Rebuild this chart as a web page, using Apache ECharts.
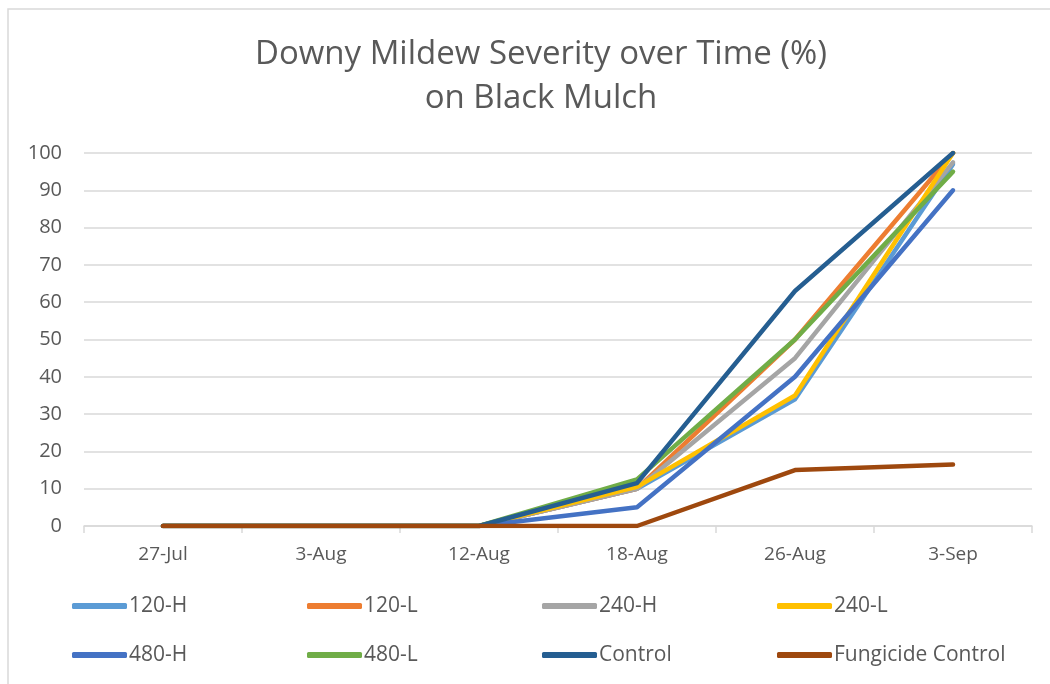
<!DOCTYPE html>
<html>
<head>
<meta charset="utf-8">
<script src="https://cdn.jsdelivr.net/npm/echarts@6/dist/echarts.min.js"></script>
<style>html,body{margin:0;padding:0;background:#fff;}#c{width:1050px;height:684px;}</style>
</head>
<body>
<div id="c"></div>
<script>
const categories = ['27-Jul', '3-Aug', '12-Aug', '18-Aug', '26-Aug', '3-Sep'];
const s120H = [0, 0, 0, 10, 34, 97];
const s120L = [0, 0, 0, 10, 50, 100];
const s240H = [0, 0, 0, 10, 45, 97.5];
const s240L = [0, 0, 0, 10.5, 35, 100];
const s480H = [0, 0, 0, 5, 40, 90];
const s480L = [0, 0, 0, 12.5, 50, 95];
const sControl = [0, 0, 0, 11.5, 63, 100];
const sFungicide = [0, 0, 0, 0, 15, 16.5];
const yTicks = [0, 10, 20, 30, 40, 50, 60, 70, 80, 90, 100];

const seriesDefs = [
  ['120-H', s120H, '#5B9BD5'],
  ['120-L', s120L, '#ED7D31'],
  ['240-H', s240H, '#A5A5A5'],
  ['240-L', s240L, '#FFC000'],
  ['480-H', s480H, '#4472C4'],
  ['480-L', s480L, '#70AD47'],
  ['Control', sControl, '#255E91'],
  ['Fungicide Control', sFungicide, '#9E480E']
];
const FONT = 'Open Sans';
const txt = '#595959';
const legendPos = [[67,589],[302,589],[537,589],[772,589],[67,638],[302,638],[537,638],[772,638]];

const chart = echarts.init(document.getElementById('c'));
chart.setOption({
  animation: false,
  backgroundColor: '#fff',
  textStyle: { fontFamily: FONT },
  graphic: [{
    type: 'rect', shape: { x: 8, y: 9, width: 1100, height: 720 },
    style: { fill: 'none', stroke: '#d9d9d9', lineWidth: 1.5 }, silent: true, z: -10
  }],
  title: {
    text: 'Downy Mildew Severity over Time (%)\non Black Mulch',
    left: 536, top: 28, textAlign: 'center',
    textStyle: { fontFamily: FONT, fontSize: 33, fontWeight: 'normal', color: txt, lineHeight: 44 }
  },
  legend: seriesDefs.map((d, i) => ({
    data: [d[0]], left: legendPos[i][0], top: legendPos[i][1],
    icon: 'roundRect', itemWidth: 55, itemHeight: 6, itemGap: 0,
    textStyle: { fontFamily: FONT, fontSize: 21, color: txt, lineHeight: 24, padding: [0, 0, 0, -3] },
    selectedMode: false
  })),
  grid: { left: 84, right: 18, top: 153, bottom: 158, containLabel: false },
  xAxis: {
    type: 'category', data: categories, boundaryGap: true,
    axisLine: { lineStyle: { color: '#d9d9d9', width: 1.5 } },
    axisTick: { show: true, length: 7, lineStyle: { color: '#d9d9d9', width: 1.5 } },
    axisLabel: { fontFamily: FONT, fontSize: 19, color: txt, margin: 19 }
  },
  yAxis: {
    type: 'value', min: 0, max: 100, interval: 10,
    axisLine: { show: false }, axisTick: { show: false },
    axisLabel: { fontFamily: FONT, fontSize: 20, color: txt, margin: 22,
      formatter: v => yTicks.includes(v) ? String(v) : '' },
    splitLine: { lineStyle: { color: '#d9d9d9', width: 1.5 } }
  },
  series: seriesDefs.map(d => ({
    name: d[0], type: 'line', data: d[1], showSymbol: false, symbol: 'none',
    color: d[2],
    lineStyle: { color: d[2], width: 4.5, cap: 'round', join: 'round' }
  }))
});
</script>
</body>
</html>
